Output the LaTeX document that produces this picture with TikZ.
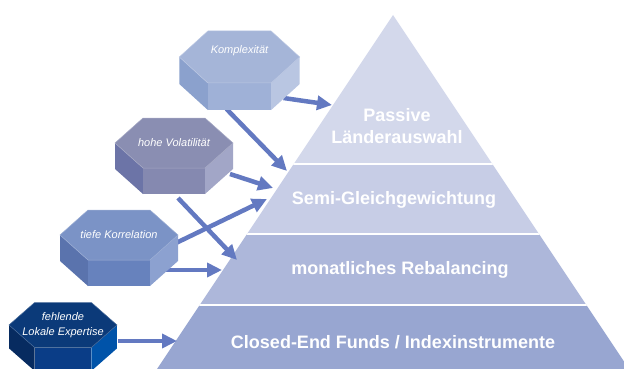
\documentclass[tikz,border=0pt]{standalone}
\usepackage{fontspec}
\setmainfont{Liberation Sans}
\usetikzlibrary{arrows.meta,calc}

% pyramid tiers
\definecolor{tierA}{HTML}{D3D8EB}
\definecolor{tierB}{HTML}{C7CDE6}
\definecolor{tierC}{HTML}{ADB7DA}
\definecolor{tierD}{HTML}{98A6D1}
% prism faces
\definecolor{komptop}{HTML}{A5B5D8}
\definecolor{kompleft}{HTML}{8BA1CD}
\definecolor{kompfront}{HTML}{9FB1D7}
\definecolor{kompright}{HTML}{B9C6E2}
\definecolor{volatop}{HTML}{8A8EB2}
\definecolor{volaleft}{HTML}{6C74A7}
\definecolor{volafront}{HTML}{8589B0}
\definecolor{volaright}{HTML}{A2A6C7}
\definecolor{korrtop}{HTML}{7B93C6}
\definecolor{korrleft}{HTML}{5A73AD}
\definecolor{korrfront}{HTML}{6782BD}
\definecolor{korrright}{HTML}{8CA1D0}
\definecolor{experttop}{HTML}{0B3A79}
\definecolor{expertleft}{HTML}{072B60}
\definecolor{expertfront}{HTML}{0A3D87}
\definecolor{expertright}{HTML}{0053A9}
\definecolor{arrowblue}{HTML}{6379C1}

\tikzset{
  flow/.style={arrowblue, line width=4.5pt, -{Triangle[length=15pt,width=14pt]}},
  tier/.style={font=\bfseries\fontsize{18}{22}\selectfont, text=white, align=center},
  cause/.style={font=\itshape\fontsize{11}{15}\selectfont, text=white, align=center, inner sep=0pt},
}

% hexagonal prism: [options]{name}{centre of top face}{colour prefix}{label}
\newcommand{\hexprism}[5][]{%
  \begin{scope}[shift={#3},#1]
    \fill[#4left] (-59,0) -- (-31,25) -- (-31,51) -- (-59,26) -- cycle;
    \fill[#4front] (-31,25) -- (31,25) -- (31,51) -- (-31,51) -- cycle;
    \fill[#4right] (31,25) -- (59,0) -- (59,26) -- (31,51) -- cycle;
    \filldraw[fill=#4top, draw=#4top!75!white, line width=0.5pt]
      (-31,-25) -- (31,-25) -- (59,0) -- (31,25) -- (-31,25) -- (-59,0) -- cycle;
    \node[cause] (#2) at (0,0) {#5};
  \end{scope}}

\begin{document}
\begin{tikzpicture}[x=1pt, y=-1pt]
    \useasboundingbox (0,0) rectangle (624,369);
    \clip (0,0) rectangle (624,369);
    % pyramid
    \begin{scope}
        \clip (393,15) -- (629,369) -- (157,369) -- cycle;
        \fill[tierA] (150,0) rectangle (640,164);
        \fill[tierB] (150,164) rectangle (640,234);
        \fill[tierC] (150,234) rectangle (640,305);
        \fill[tierD] (150,305) rectangle (640,380);
        \draw[white, line width=1.8pt] (150,164) -- (640,164);
        \draw[white, line width=1.8pt] (150,234) -- (640,234);
        \draw[white, line width=1.8pt] (150,305) -- (640,305);
    \end{scope}
    \node[tier] (passive) at (397,126) {Passive\\Länderauswahl};
    \node[tier] (semi) at (394,200) {Semi-Gleichgewichtung};
    \node[tier] (rebal) at (400,270) {monatliches Rebalancing};
    \node[tier] (closed) at (393,342) {Closed-End Funds / Indexinstrumente};
    % arrow tips
    \coordinate (tipA) at (332,105);
    \coordinate (tipB) at (287,171);
    \coordinate (tipC) at (273,188);
    \coordinate (tipD) at (237,260);
    \coordinate (tipE) at (267,199);
    \coordinate (tipF) at (222,270);
    \coordinate (tipG) at (177,341);
    % causes (labels first, arrows are drawn under the prisms)
    \path (239.5,51) coordinate (kompc) (174,143) coordinate (volac)
          (119,235) coordinate (korrc) (63,325) coordinate (expertc);
    \draw[flow] ($(kompc)+(44,47)$) -- (tipA);
    \draw[flow] ($(kompc)+(-13,58)$) -- (tipB);
    \draw[flow] ($(volac)+(56,31)$) -- (tipC);
    \draw[flow] ($(volac)+(4,55)$) -- (tipD);
    \draw[flow] ($(korrc)+(57,8)$) -- (tipE);
    \draw[flow] ($(korrc)+(46,35)$) -- (tipF);
    \draw[flow] ($(expertc)+(55,16)$) -- (tipG);
    % prisms
    \hexprism[yscale=1.04, xscale=1.02, every node/.append style={yshift=6pt}]{komp}{(239.5,57)}{komp}{Komplexität}
    \hexprism{vola}{(174,143)}{vola}{hohe Volatilität}
    \hexprism[yscale=1.0]{korr}{(119,235)}{korr}{tiefe Korrelation}
    \hexprism[xscale=0.915, yscale=0.9]{expert}{(63,325)}{expert}{fehlende\\Lokale Expertise}
\end{tikzpicture}
\end{document}
